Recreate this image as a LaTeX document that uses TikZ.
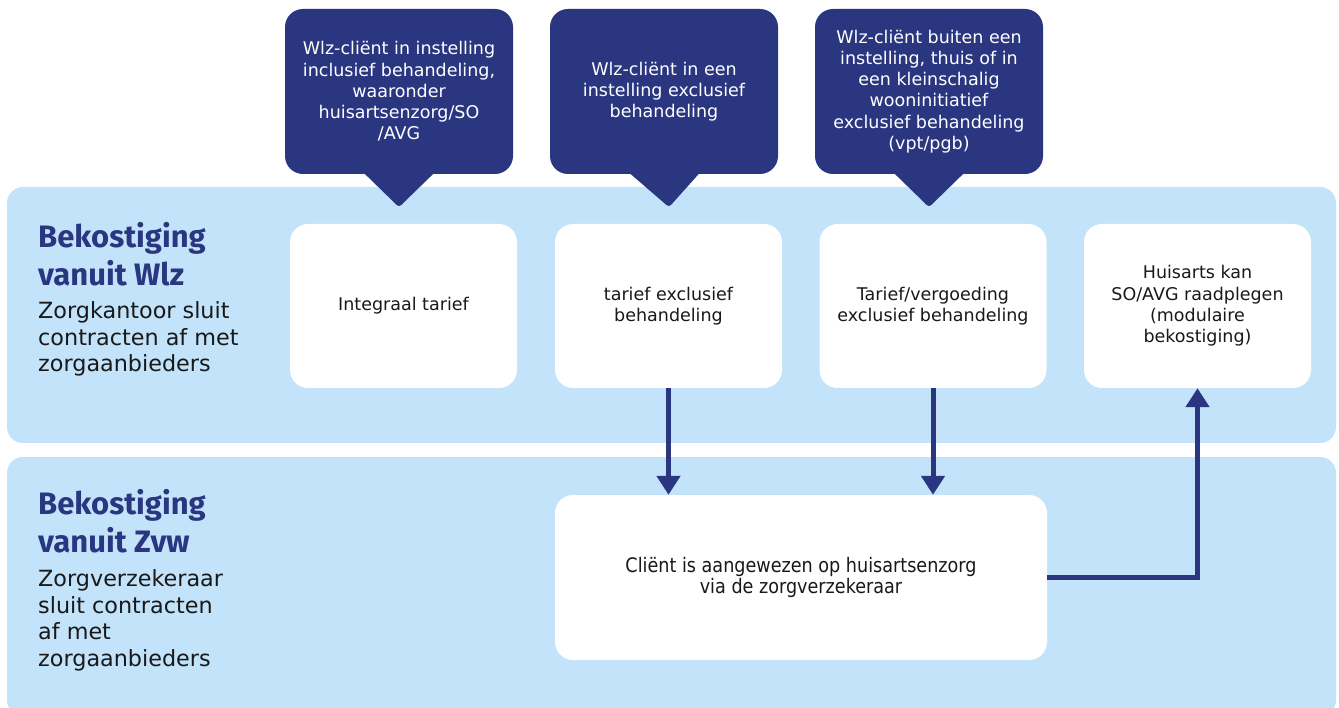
\documentclass[tikz,border=0pt]{standalone}
\usepackage{fontspec}
\setmainfont{DejaVu Sans}
\newfontfamily\headfont{Fira Sans}
\newfontfamily\narrowfont{DejaVu Sans}[FakeStretch=0.88]
\usetikzlibrary{arrows.meta}
\definecolor{navy}{RGB}{42,54,128}
\definecolor{band}{RGB}{194,227,250}
\definecolor{ink}{RGB}{25,25,25}

\begin{document}
\begin{tikzpicture}[x=1pt,y=-1pt,
  bandbox/.style={fill=band, rounded corners=16pt},
  callout/.style={fill=navy, rounded corners=18pt, minimum width=228pt, minimum height=165pt,
    text=white, align=center, inner sep=0pt, font=\fontsize{17.5}{21.3}\selectfont},
  pointer/.style={fill=navy, rounded corners=3pt},
  card/.style={fill=white, rounded corners=18pt, minimum width=227pt, minimum height=164pt,
    text=ink, align=center, inner sep=0pt, font=\fontsize{17.5}{21.3}\selectfont},
  heading/.style={anchor=base west, inner sep=0pt, align=left, text=navy,
    font=\headfont\bfseries\fontsize{31}{38}\selectfont},
  body/.style={anchor=base west, inner sep=0pt, align=left, text=ink,
    font=\fontsize{22.3}{26.5}\selectfont},
  flow/.style={draw=navy, line width=5pt, -{Triangle[width=23pt,length=19pt]}},
  ]
\useasboundingbox (0,0) rectangle (1339,708);
\fill[white] (0,0) rectangle (1339,708);

% the two funding bands
\fill[bandbox] (7,187) rectangle (1336,443);
\fill[bandbox] (7,457) rectangle (1336,716);

% band titles (anchored on the baseline of their last line)
\node[heading] (hwlz) at (38,286) {Bekostiging\\vanuit Wlz};
\node[body] (twlz) at (38,372) {Zorgkantoor sluit\\contracten af met\\zorgaanbieders};
\node[heading] (hzvw) at (38,552) {Bekostiging\\vanuit Zvw};
\node[body] (tzvw) at (38,666) {Zorgverzekeraar\\sluit contracten\\af met\\zorgaanbieders};

% client situations
\node[callout] (c1) at (399,91.5) {Wlz-cliënt in instelling\\inclusief behandeling,\\waaronder\\huisartsenzorg/SO\\/AVG};
\node[callout] (c2) at (664,91.5) {Wlz-cliënt in een\\instelling exclusief\\behandeling};
\node[callout] (c3) at (929,91.5) {Wlz-cliënt buiten een\\instelling, thuis of in\\een kleinschalig\\wooninitiatief\\exclusief behandeling\\(vpt/pgb)};
\foreach \c/\dx in {c1/0, c2/5, c3/0} {
  \fill[pointer] ([xshift=-39pt,yshift=5pt]\c.south) -- ([xshift=\dx pt,yshift=-33pt]\c.south)
    -- ([xshift=39pt,yshift=5pt]\c.south) -- cycle;
}

% tariffs within the Wlz
\node[card] (b1) at (403.5,306) {Integraal tarief};
\node[card] (b2) at (668.5,306) {tarief exclusief\\behandeling};
\node[card] (b3) at (933,306) {Tarief/vergoeding\\exclusief behandeling};
\node[card] (b4) at (1197.5,306) {Huisarts kan\\SO/AVG raadplegen\\(modulaire\\bekostiging)};

% general practice care via the Zvw
\node[card, minimum width=492pt, minimum height=165pt,
  font=\narrowfont\fontsize{20}{21.5}\selectfont] (bz) at (801,577.5)
  {Cliënt is aangewezen op huisartsenzorg\\via de zorgverzekeraar};

% connectors
\draw[flow] (b2.south) -- (b2.south |- bz.north);
\draw[flow] (b3.south) -- (b3.south |- bz.north);
\draw[flow] (bz.east) -| (b4.south);
\end{tikzpicture}
\end{document}
